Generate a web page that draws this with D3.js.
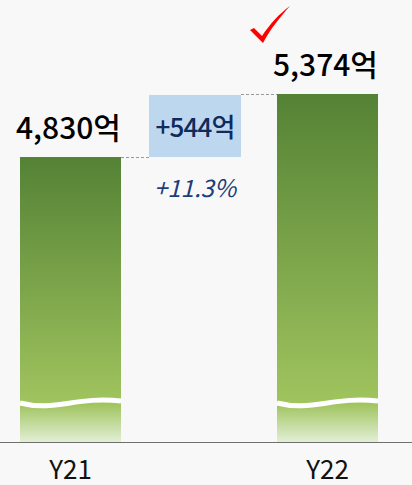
<!DOCTYPE html>
<html>
<head>
<meta charset="utf-8">
<script src="https://cdn.jsdelivr.net/npm/d3@7"></script>
<style>
  body { margin: 0; background: #f8f8f8; }
  svg { display: block; font-family: "Noto Sans CJK KR", "Noto Sans", sans-serif; }
</style>
</head>
<body>
<svg width="412" height="485"></svg>
<script>
// chart data
var years = ["Y21", "Y22"];
var sales = [4830, 5374];
var valueLabels = ["4,830억", "5,374억"];
var diffLabel = "+544억";
var growthLabel = "+11.3%";

var width = 412, height = 485;
var svg = d3.select("svg");

// x scale: two bars
var x = d3.scaleBand()
          .domain(years)
          .range([20, 378])
          .paddingInner(0.607)
          .paddingOuter(0);

// y axis is broken, so the domain does not start at zero
var y = d3.scaleLinear()
          .domain([2370, 5374])
          .range([442, 94]);

var defs = svg.append("defs");
var grad = defs.append("linearGradient")
               .attr("id", "barGrad")
               .attr("x1", 0).attr("y1", 0).attr("x2", 0).attr("y2", 1);
grad.append("stop").attr("offset", "0%").attr("stop-color", "#548235");
grad.append("stop").attr("offset", "100%").attr("stop-color", "#a0c45e");

var fadeGrad = defs.append("linearGradient")
               .attr("id", "fadeGrad")
               .attr("x1", 0).attr("y1", 0).attr("x2", 0).attr("y2", 1);
fadeGrad.append("stop").attr("offset", "0%").attr("stop-color", "#a0c45e");
fadeGrad.append("stop").attr("offset", "100%").attr("stop-color", "#e3efd6");

var waveY = 404;

// bars (upper part)
svg.append("g")
   .selectAll("rect")
   .data(sales)
   .enter()
   .append("rect")
   .attr("x", (d, i) => x(years[i]))
   .attr("y", d => y(d))
   .attr("width", x.bandwidth())
   .attr("height", d => waveY - y(d))
   .style("fill", "url(#barGrad)");

// bars (bottom part under the break)
svg.append("g")
   .selectAll("rect")
   .data(sales)
   .enter()
   .append("rect")
   .attr("x", (d, i) => x(years[i]))
   .attr("y", waveY)
   .attr("width", x.bandwidth())
   .attr("height", y.range()[0] - waveY)
   .style("fill", "url(#fadeGrad)");

// wave break marks
years.forEach(function(yr) {
    var x0 = x(yr), w = x.bandwidth();
    svg.append("path")
       .attr("d", "M" + x0 + ",403" +
                  " C" + (x0 + w * 0.35) + ",412 " + (x0 + w * 0.55) + ",396 " + (x0 + w) + ",401")
       .style("fill", "none")
       .style("stroke", "#fff")
       .style("stroke-width", 5);
});

// baseline
svg.append("line")
   .attr("x1", 0).attr("x2", width)
   .attr("y1", y.range()[0] + 0.5).attr("y2", y.range()[0] + 0.5)
   .style("stroke", "#6f6f6f")
   .style("stroke-width", 1.2);

// x labels
svg.append("g")
   .selectAll("text")
   .data(years)
   .enter()
   .append("text")
   .attr("x", d => x(d) + x.bandwidth() / 2)
   .attr("y", 479)
   .attr("text-anchor", "middle")
   .style("font-size", "26px")
   .style("fill", "#111")
   .text(d => d);

// value labels
svg.append("g")
   .selectAll("text")
   .data(sales)
   .enter()
   .append("text")
   .attr("x", (d, i) => x(years[i]) + x.bandwidth() / 2 - 2)
   .attr("y", d => y(d) - 18)
   .attr("text-anchor", "middle")
   .style("font-size", "30px")
   .style("font-weight", "500")
   .style("fill", "#000")
   .text((d, i) => valueLabels[i]);

// difference box
var boxX0 = x(years[0]) + x.bandwidth() + 28;
var boxX1 = x(years[1]) - 36;
svg.append("rect")
   .attr("x", boxX0)
   .attr("y", y(sales[1]) + 1)
   .attr("width", boxX1 - boxX0)
   .attr("height", y(sales[0]) - y(sales[1]) - 1)
   .style("fill", "#bdd7ee");

svg.append("text")
   .attr("x", (boxX0 + boxX1) / 2)
   .attr("y", 137)
   .attr("text-anchor", "middle")
   .style("font-size", "26px")
   .style("font-weight", "500")
   .style("letter-spacing", "-0.8px")
   .style("fill", "#0f2a5c")
   .text(diffLabel);

// dashed connector lines
svg.append("line")
   .attr("x1", x(years[0]) + x.bandwidth()).attr("x2", boxX0)
   .attr("y1", y(sales[0]) + 0.5).attr("y2", y(sales[0]) + 0.5)
   .style("stroke", "#999").style("stroke-dasharray", "3,2");
svg.append("line")
   .attr("x1", boxX1).attr("x2", x(years[1]))
   .attr("y1", y(sales[1]) + 0.5).attr("y2", y(sales[1]) + 0.5)
   .style("stroke", "#999").style("stroke-dasharray", "3,2");

svg.append("text")
   .attr("x", (boxX0 + boxX1) / 2)
   .attr("y", 197)
   .attr("text-anchor", "middle")
   .style("font-size", "24px")
   .style("font-style", "italic")
   .style("fill", "#1f3d7a")
   .text(growthLabel);

// red check mark
svg.append("path")
   .attr("d", "M250,30 L254,28 L262,36 C270,24 279,14 290,6 C281,16 271,28 263,43 Z")
   .style("fill", "#ff0000");
</script>
</body>
</html>
